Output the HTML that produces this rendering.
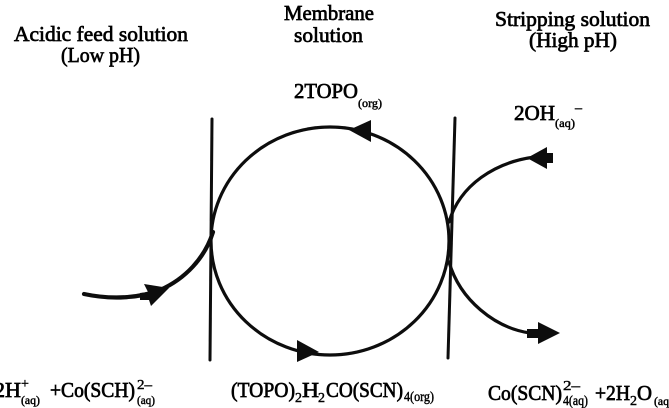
<!DOCTYPE html>
<html>
<head>
<meta charset="utf-8">
<style>
html,body{margin:0;padding:0;background:#fff;width:669px;height:408px;overflow:hidden}
svg{display:block}
text{font-family:"Liberation Serif",serif;fill:#000;stroke:#000;stroke-width:.7px;font-size:21px}
.s{font-size:12px;stroke-width:.45px}
.m{font-size:14px;stroke-width:.45px}
</style>
</head>
<body>
<svg width="669" height="408" viewBox="0 0 669 408" xmlns="http://www.w3.org/2000/svg">
<filter id="b"><feGaussianBlur stdDeviation="0.3"/></filter>
<g filter="url(#b)">
<g fill="none" stroke="#0a0a0a" stroke-linecap="round">
<path d="M212 119L210 360M455 118L448 358" stroke-width="3"/>
<ellipse cx="330" cy="241" rx="119" ry="114" stroke-width="3.2"/>
<path d="M84 294C112 300 140 298 160 290C185 279 205 258 213 232" stroke-width="4.2"/>
<path d="M449 222C460 185 495 162 535 157" stroke-width="3.2"/>
<path d="M449 262C460 300 495 328 530 333" stroke-width="3.2"/>
</g>
<g fill="#0a0a0a">
<polygon points="144,284 169,288 151,306 149,300 140,300 140,293 148,292"/>
<polygon points="349,130 371,120 371,142"/>
<polygon points="319,352 297,340 297,362"/>
<polygon points="527,158 547,147 547,153 553,153 553,163 547,163 547,169"/>
<polygon points="527,329 538,329 538,322 560,333 538,344 538,338 527,338"/>
</g>
<text x="14" y="41" textLength="174" lengthAdjust="spacingAndGlyphs">Acidic feed solution</text>
<text x="61" y="62" textLength="79" lengthAdjust="spacingAndGlyphs">(Low pH)</text>
<text x="284" y="20" textLength="90" lengthAdjust="spacingAndGlyphs">Membrane</text>
<text x="294" y="42" textLength="69" lengthAdjust="spacingAndGlyphs">solution</text>
<text x="495" y="26" textLength="155" lengthAdjust="spacingAndGlyphs">Stripping solution</text>
<text x="529" y="47" textLength="88" lengthAdjust="spacingAndGlyphs">(High pH)</text>
<text x="294" y="98" textLength="64" lengthAdjust="spacingAndGlyphs">2TOPO</text>
<text class="s" x="358" y="107" textLength="24" lengthAdjust="spacingAndGlyphs">(org)</text>
<text x="514" y="120" textLength="41" lengthAdjust="spacingAndGlyphs">2OH</text>
<text class="s" x="555" y="127" textLength="20" lengthAdjust="spacingAndGlyphs">(aq)</text>
<text class="m" x="575" y="112">–</text>
<text x="-6" y="397" textLength="27" lengthAdjust="spacingAndGlyphs">2H</text>
<text class="m" x="21" y="388">+</text>
<text class="s" x="21" y="404" textLength="19" lengthAdjust="spacingAndGlyphs">(aq)</text>
<text x="50" y="397" textLength="85" lengthAdjust="spacingAndGlyphs">+Co(SCH)</text>
<text class="m" x="137" y="389" textLength="15" lengthAdjust="spacingAndGlyphs">2–</text>
<text class="s" x="137" y="404" textLength="18" lengthAdjust="spacingAndGlyphs">(aq)</text>
<text x="231" y="397" textLength="64" lengthAdjust="spacingAndGlyphs">(TOPO)</text>
<text class="m" x="295" y="402">2</text>
<text x="302" y="397" textLength="17" lengthAdjust="spacingAndGlyphs">H</text>
<text class="m" x="318" y="402">2</text>
<text x="326" y="397" textLength="77" lengthAdjust="spacingAndGlyphs">CO(SCN)</text>
<text class="m" x="404" y="401" textLength="30" lengthAdjust="spacingAndGlyphs">4(org)</text>
<text x="488" y="400" textLength="74" lengthAdjust="spacingAndGlyphs">Co(SCN)</text>
<text class="m" x="563" y="390" textLength="17" lengthAdjust="spacingAndGlyphs">2–</text>
<text class="m" x="563" y="405" textLength="25" lengthAdjust="spacingAndGlyphs">4(aq)</text>
<text x="595" y="400" textLength="35" lengthAdjust="spacingAndGlyphs">+2H</text>
<text class="m" x="630" y="405">2</text>
<text x="637" y="400" textLength="15" lengthAdjust="spacingAndGlyphs">O</text>
<text class="s" x="654" y="405" textLength="19" lengthAdjust="spacingAndGlyphs">(aq)</text>
</g>
</svg>
</body>
</html>
